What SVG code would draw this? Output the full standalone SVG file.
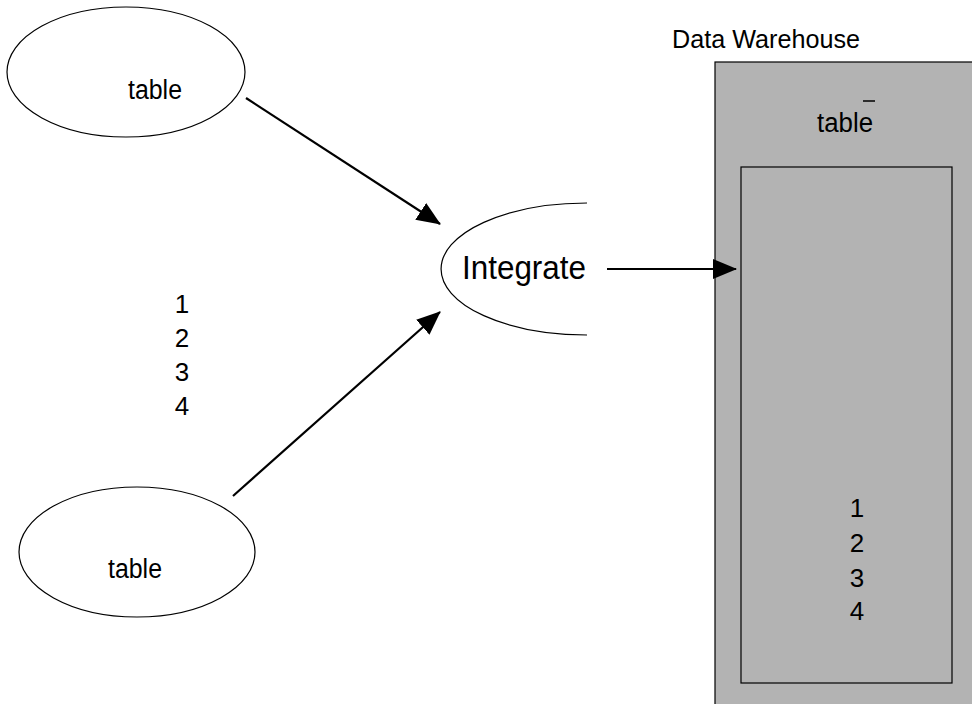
<svg xmlns="http://www.w3.org/2000/svg" width="972" height="704" viewBox="0 0 972 704">
  <style>
    .lbl { font-family: "Liberation Sans", Arial, sans-serif; fill: #000; }
    .shape { fill: #fff; stroke: #000; stroke-width: 1.2; }
    .box { fill: #b3b3b3; stroke: #000; stroke-width: 1.2; }
    .conn { stroke: #000; stroke-width: 2.2; fill: none; marker-end: url(#arrow); }
  </style>
  <defs>
    <marker id="arrow" markerUnits="userSpaceOnUse" markerWidth="24" markerHeight="20" viewBox="0 0 24 20" refX="23" refY="10" orient="auto">
      <path d="M0,0 L24,10 L0,20 Z" fill="#000"/>
    </marker>
  </defs>
  <rect width="972" height="704" fill="#fff"/>

  <!-- source table (top) -->
  <g id="table-top">
    <ellipse class="shape" cx="126" cy="72" rx="119" ry="65"/>
    <text class="lbl" x="128" y="99" font-size="27" textLength="54" lengthAdjust="spacingAndGlyphs">table</text>
  </g>

  <!-- source table (bottom) -->
  <g id="table-bottom">
    <ellipse class="shape" cx="137" cy="552" rx="118" ry="65"/>
    <text class="lbl" x="108" y="578" font-size="27" textLength="54" lengthAdjust="spacingAndGlyphs">table</text>
  </g>

  <!-- row numbers -->
  <g id="rows-left" class="lbl" font-size="26" text-anchor="middle">
    <text x="182" y="313">1</text>
    <text x="182" y="347">2</text>
    <text x="182" y="381">3</text>
    <text x="182" y="415">4</text>
  </g>

  <!-- integration step (open arc) -->
  <g id="integrate">
    <path d="M587,203 A146,66 0 0 0 587,335" fill="#fff" stroke="#000" stroke-width="1.2"/>
    <text class="lbl" x="462" y="279" font-size="33" textLength="124" lengthAdjust="spacingAndGlyphs">Integrate</text>
  </g>

  <!-- warehouse -->
  <g id="warehouse">
    <text class="lbl" x="672" y="48" font-size="25" textLength="188" lengthAdjust="spacingAndGlyphs">Data Warehouse</text>
    <rect class="box" x="715" y="62" width="270" height="660"/>
    <text class="lbl" x="817" y="132" font-size="27" textLength="56" lengthAdjust="spacingAndGlyphs">table</text>
    <line x1="863" y1="101" x2="875" y2="101" stroke="#000" stroke-width="1.5"/>
    <rect class="box" x="741" y="167" width="211" height="516"/>
    <g class="lbl" font-size="26" text-anchor="middle">
      <text x="857" y="517">1</text>
      <text x="857" y="552">2</text>
      <text x="857" y="587">3</text>
      <text x="857" y="620">4</text>
    </g>
  </g>

  <!-- connectors -->
  <g id="connectors">
    <line class="conn" x1="246" y1="98" x2="440" y2="224"/>
    <line class="conn" x1="233" y1="496" x2="440" y2="312"/>
    <line class="conn" x1="607" y1="269" x2="736" y2="269"/>
  </g>
</svg>
